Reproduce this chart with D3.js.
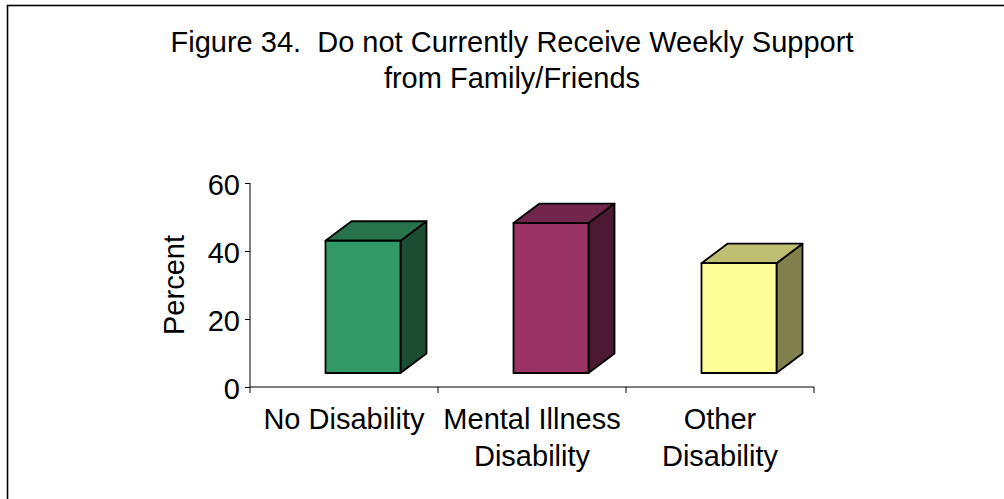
<!DOCTYPE html>
<html>
<head>
<meta charset="utf-8">
<script src="https://cdn.jsdelivr.net/npm/d3@7"></script>
<style>
  html, body { margin: 0; padding: 0; background: #fff; }
  svg { display: block; font-family: "Liberation Sans", Arial, sans-serif; }
</style>
</head>
<body>
<svg id="chart" width="1004" height="499"></svg>
<script>
// Chart data
const categories = ["No Disability", "Mental Illness Disability", "Other Disability"];
const categoryLines = [["No Disability"], ["Mental Illness", "Disability"], ["Other", "Disability"]];
const percentValues = [38.9, 44.1, 32.3];
const yTicks = [0, 20, 40, 60];
const titleLines = ["Figure 34.  Do not Currently Receive Weekly Support", "from Family/Friends"];
const frontColors = ["#339966", "#993366", "#ffff99"];
const topColors = ["#26734c", "#73264c", "#bfbf73"];
const sideColors = ["#1a4d33", "#4c1933", "#80804c"];

const svg = d3.select("#chart");
const fontSize = 29;

// Outer frame (right and bottom edges run past the page)
svg.append("rect")
  .attr("x", 7.5).attr("y", 5.5)
  .attr("width", 1010).attr("height", 510)
  .attr("fill", "none").attr("stroke", "#000").attr("stroke-width", 1.6);

// Title
svg.append("text")
  .attr("x", 512).attr("y", 52)
  .attr("text-anchor", "middle")
  .attr("font-size", fontSize)
  .selectAll("tspan").data(titleLines).join("tspan")
  .attr("x", 512)
  .attr("dy", (d, i) => i === 0 ? 0 : 36)
  .style("white-space", "pre")
  .text(d => d);

// Scales
const x = d3.scaleBand().domain(categories).range([250, 814]).padding(0);
const y = d3.scaleLinear().domain([0, 60]).range([387, 183]);

// 3D box geometry
const depthX = 26, depthY = 19.5;   // receding offset of the box
const floorLift = 14;                // front face base sits above the axis line
const faceOffset = 75.5, faceWidth = 75;

const bars = svg.append("g").selectAll("g").data(categories).join("g");

bars.each(function (c, i) {
  const g = d3.select(this);
  const x0 = x(c) + faceOffset, x1 = x0 + faceWidth;
  const yb = y(0) - floorLift;
  const yt = y(percentValues[i]) - floorLift;
  const sw = 1.8;
  // side face
  g.append("path")
    .attr("d", `M${x1},${yb} L${x1 + depthX},${yb - depthY} L${x1 + depthX},${yt - depthY} L${x1},${yt} Z`)
    .attr("fill", sideColors[i]).attr("stroke", "#000").attr("stroke-width", sw)
    .attr("stroke-linejoin", "round");
  // top face
  g.append("path")
    .attr("d", `M${x0},${yt} L${x0 + depthX},${yt - depthY} L${x1 + depthX},${yt - depthY} L${x1},${yt} Z`)
    .attr("fill", topColors[i]).attr("stroke", "#000").attr("stroke-width", sw)
    .attr("stroke-linejoin", "round");
  // front face
  g.append("rect")
    .attr("x", x0).attr("y", yt)
    .attr("width", faceWidth).attr("height", yb - yt)
    .attr("fill", frontColors[i]).attr("stroke", "#000").attr("stroke-width", sw)
    .attr("stroke-linejoin", "round");
});

// Y axis
const yAxis = svg.append("g")
  .attr("transform", `translate(${250},0)`)
  .call(d3.axisLeft(y).tickValues(yTicks).tickSize(5).tickSizeOuter(0).tickPadding(5));
yAxis.select(".domain").attr("stroke", "#000").attr("d", `M0,${y(0) + 6}V${y(60)}`);
yAxis.selectAll(".tick line").attr("stroke", "#000");
yAxis.selectAll(".tick text")
  .attr("font-size", fontSize).attr("font-family", "Liberation Sans, Arial, sans-serif")
  .attr("fill", "#000").attr("dy", null).attr("y", 11);

// X axis line with ticks at category boundaries
const xAxisG = svg.append("g");
xAxisG.append("line")
  .attr("x1", x.range()[0]).attr("x2", x.range()[1])
  .attr("y1", y(0)).attr("y2", y(0))
  .attr("stroke", "#000");
const boundaries = categories.map(c => x(c)).concat([x.range()[1]]);
xAxisG.selectAll("line.tick").data(boundaries.slice(1)).join("line")
  .attr("class", "tick")
  .attr("x1", d => d).attr("x2", d => d)
  .attr("y1", y(0)).attr("y2", y(0) + 6)
  .attr("stroke", "#000");

// Category labels
svg.append("g").selectAll("text").data(categories).join("text")
  .attr("text-anchor", "middle")
  .attr("font-size", fontSize)
  .attr("y", 429)
  .each(function (c, i) {
    d3.select(this).selectAll("tspan").data(categoryLines[i]).join("tspan")
      .attr("x", x(c) + x.bandwidth() / 2)
      .attr("dy", (d, j) => j === 0 ? 0 : 37)
      .text(d => d);
  });

// Y axis title
svg.append("text")
  .attr("transform", `translate(183.5,285) rotate(-90)`)
  .attr("text-anchor", "middle")
  .attr("font-size", fontSize)
  .text("Percent");
</script>
</body>
</html>
